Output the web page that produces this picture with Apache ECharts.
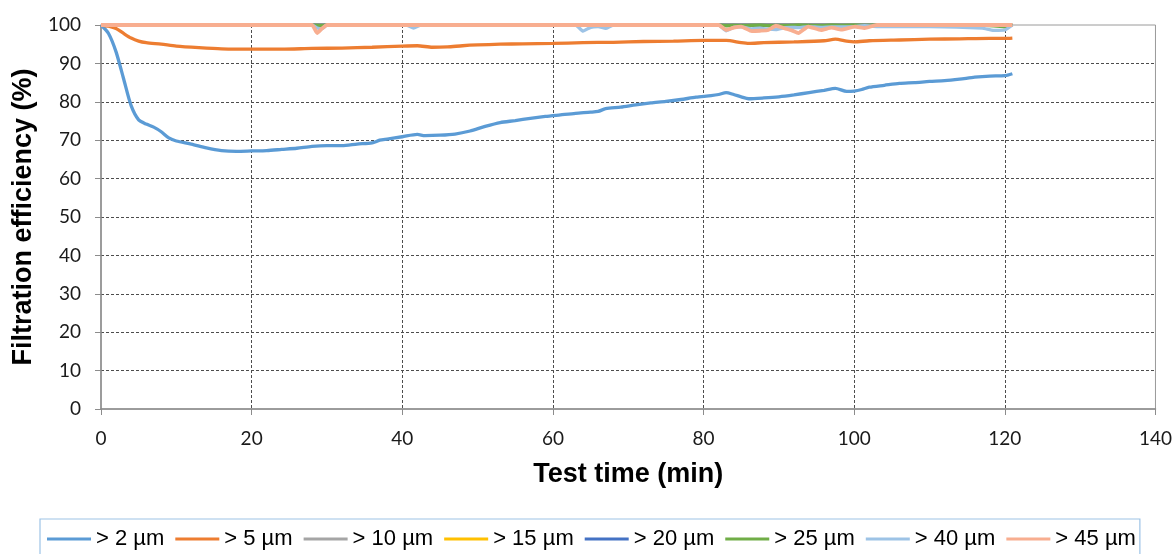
<!DOCTYPE html>
<html>
<head>
<meta charset="utf-8">
<script src="https://cdn.jsdelivr.net/npm/echarts@6/dist/echarts.min.js"></script>
<style>
html,body{margin:0;padding:0;background:#fff;}
#chart{width:1175px;height:554px;}
</style>
</head>
<body>
<div id="chart"></div>
<script>
// ---- Data ----
var seriesNames = ['> 2 µm', '> 5 µm', '> 10 µm', '> 15 µm', '> 20 µm', '> 25 µm', '> 40 µm', '> 45 µm'];
var xTicks = [0, 20, 40, 60, 80, 100, 120, 140];
var yTicks = [0, 10, 20, 30, 40, 50, 60, 70, 80, 90, 100];

var timeBlue = [0,1,2,3,4,5,6,7,8,9,10,12,14,16,18,20,22,24,26,28,30,32,34,36,37,38,40,42,43,45,47,49,51,53,55,57,59,61,63,65,66,67,69,71,73,75,77,79,81,82,83,84,85,86,88,90,92,94,96,97.5,99,100,101,102,104,106,108,110,112,114,116,118,120,121];
var blue2 = [100,97.8,93,86,79,75.3,74.2,73.4,72.2,70.6,69.8,69,68,67.3,67.1,67.2,67.3,67.6,67.9,68.4,68.6,68.6,69.0,69.3,70.0,70.3,70.9,71.5,71.2,71.3,71.6,72.4,73.6,74.6,75.1,75.7,76.2,76.6,77.0,77.3,77.5,78.2,78.6,79.2,79.7,80.1,80.6,81.2,81.6,81.9,82.4,81.9,81.3,80.8,81.0,81.3,81.8,82.4,83.0,83.5,82.7,82.8,83.2,83.8,84.3,84.8,85.0,85.3,85.5,85.9,86.4,86.7,86.8,87.3];

var timeOrange = [0,1,2,3,4,5,6,8,10,13,16,20,24,28,32,36,40,42,44,46,48,50,53,56,60,64,68,72,76,80,83,85,86,88,92,96,97.5,99,100,102,106,110,114,118,120,121];
var orange5 = [100,99.7,99.1,97.8,96.6,95.8,95.4,95.0,94.5,94.1,93.8,93.7,93.7,93.9,94.0,94.2,94.5,94.6,94.2,94.3,94.6,94.8,95.0,95.1,95.2,95.4,95.5,95.7,95.8,96.0,96.0,95.4,95.2,95.4,95.6,95.9,96.3,95.8,95.6,95.9,96.1,96.3,96.4,96.5,96.5,96.6];

var timeFlat = [0, 121];
var gray10 = [100, 100];
var yellow15 = [100, 100];
var navy20 = [100, 100];

var timeTop = [0,28,28.7,29.3,30,40.5,41.5,42.5,63,64,65,66,67,68,82,83,84,85,86.4,87.5,88.6,89.6,90.8,91.7,92.6,93.9,95.6,97,98.3,100.1,101.4,103,110,117,118.5,120,121];
var green25 = [100,100,99.9,99.8,100,100,100,100,100,100,100,100,100,100,100,99.8,99.9,99.8,99.9,100,99.8,99.9,99.8,99.9,100,99.9,99.8,100,99.9,100,99.9,100,100,100,99.8,99.5,100];
var lightBlue40 = [100,100,99.2,99.0,100,100,99.2,100,100,98.4,99.4,99.6,99.1,100,100,98.5,99.4,99.5,99.0,99.2,98.9,98.8,99.3,99.4,99.3,99.6,99.4,99.5,99.5,99.6,99.8,99.6,99.6,99.2,98.6,98.7,100];
var pink45 = [100,100,97.9,99.0,100,100,100,100,100,100,100,100,100,100,100,98.7,99.3,99.6,98.4,98.5,98.7,99.8,99.1,98.6,97.9,99.6,98.7,99.3,98.8,99.6,99.2,100,100,100,100,100,100];

var colors = ['#5B9BD5', '#ED7D31', '#A5A5A5', '#FFC000', '#4472C4', '#70AD47', '#9DC3E6', '#F8AE90'];

function pairs(t, v) { return t.map(function (x, i) { return [x, v[i]]; }); }

var seriesData = [
  pairs(timeBlue, blue2),
  pairs(timeOrange, orange5),
  pairs(timeFlat, gray10),
  pairs(timeFlat, yellow15),
  pairs(timeFlat, navy20),
  pairs(timeTop, green25),
  pairs(timeTop, lightBlue40),
  pairs(timeTop, pink45)
];

var series = seriesData.map(function (d, i) {
  return {
    name: seriesNames[i],
    type: 'line',
    data: d,
    symbol: 'none',
    smooth: (i < 2) ? 0.25 : 0.15,
    lineStyle: { color: colors[i], width: (i === 7) ? 3.8 : 3.3 },
    itemStyle: { color: colors[i] },
    z: 2 + i
  };
});

var gridDash = '#4d4d4d';
var ySplitColors = yTicks.map(function (v, i) { return (i === 0 || i === yTicks.length - 1) ? 'rgba(0,0,0,0)' : gridDash; });
var xSplitColors = xTicks.map(function (v, i) { return (i === 0 || i === xTicks.length - 1) ? 'rgba(0,0,0,0)' : gridDash; });

var chart = echarts.init(document.getElementById('chart'), null, { renderer: 'canvas' });
chart.setOption({
  animation: false,
  color: colors,
  grid: {
    left: 101, right: 17, top: 25, bottom: 145,
    show: true, borderColor: '#9a9a9a', borderWidth: 1, backgroundColor: 'transparent'
  },
  xAxis: {
    type: 'value',
    min: xTicks[0], max: xTicks[xTicks.length - 1], interval: 20,
    name: 'Test time (min)',
    nameLocation: 'middle',
    nameGap: 52,
    nameTextStyle: { fontFamily: 'Liberation Sans', fontWeight: 'bold', fontSize: 27, color: '#000' },
    axisLine: { show: true, lineStyle: { color: '#8c8c8c', width: 1.5 } },
    axisTick: { show: true, length: 6, lineStyle: { color: '#8c8c8c' } },
    axisLabel: { margin: 20, fontFamily: 'Lato', fontSize: 19, color: '#1a1a1a' },
    splitLine: { show: true, lineStyle: { type: [3, 2], color: xSplitColors, width: 1 } }
  },
  yAxis: {
    type: 'value',
    min: yTicks[0], max: yTicks[yTicks.length - 1], interval: 10,
    name: 'Filtration efficiency (%)',
    nameLocation: 'middle',
    nameGap: 62,
    nameTextStyle: { fontFamily: 'Liberation Sans', fontWeight: 'bold', fontSize: 27, color: '#000' },
    axisLine: { show: true, lineStyle: { color: '#8c8c8c', width: 1.5 } },
    axisTick: { show: true, length: 6, lineStyle: { color: '#8c8c8c' } },
    axisLabel: { margin: 20, fontFamily: 'Lato', fontSize: 19, color: '#1a1a1a' },
    splitLine: { show: true, lineStyle: { type: [3, 2], color: ySplitColors, width: 1 } }
  },
  legend: {
    data: seriesNames,
    left: 40,
    top: 519,
    orient: 'horizontal',
    icon: 'rect',
    itemWidth: 44,
    itemHeight: 3,
    itemGap: 11,
    padding: [9, 4, 12, 7],
    borderColor: '#9DC3E6',
    borderWidth: 1.2,
    textStyle: { fontFamily: 'Liberation Sans', fontSize: 22, color: '#000' }
  },
  series: series
});
</script>
</body>
</html>
